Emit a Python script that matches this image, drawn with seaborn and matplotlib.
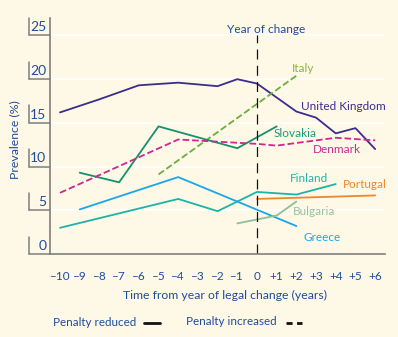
import matplotlib
matplotlib.use("Agg")
import matplotlib.pyplot as plt
from matplotlib.lines import Line2D
from matplotlib.transforms import blended_transform_factory
import pandas as pd
import seaborn as sns

# Prevalence (%) by year relative to the legal change
uk_years = [-10, -8, -6, -4, -2, -1, 0, 2, 3, 4, 5, 6]
uk_vals = [16.2, 17.7, 19.3, 19.6, 19.2, 20.0, 19.5, 16.3, 15.6, 13.8, 14.4, 12.0]

italy_years = [-5, 2]
italy_vals = [9.1, 20.4]

slovakia_years = [-9, -7, -5, -1, 1]
slovakia_vals = [9.3, 8.2, 14.6, 12.1, 14.6]

denmark_years = [-10, -4, 0, 1, 4, 6]
denmark_vals = [7.0, 13.1, 12.6, 12.4, 13.3, 13.0]

finland_years = [-10, -4, -2, 0, 2, 4]
finland_vals = [3.0, 6.3, 4.9, 7.1, 6.8, 8.0]

greece_years = [-9, -4, 2]
greece_vals = [5.1, 8.8, 3.2]

portugal_years = [0, 6]
portugal_vals = [6.3, 6.7]

bulgaria_years = [-1, 1, 2]
bulgaria_vals = [3.5, 4.4, 6.0]

x_ticks = list(range(-10, 7))
x_labels = ["\u2013%d" % -t if t < 0 else ("0" if t == 0 else "+%d" % t) for t in x_ticks]
y_ticks = [0, 5, 10, 15, 20, 25]

BG = "#FEF9E7"
TXT = "#1F4C9C"
AX = "#7F7F7F"

sns.set_style("white", {"axes.facecolor": BG, "figure.facecolor": BG})
plt.rcParams["font.family"] = ["Lato", "DejaVu Sans"]

fig = plt.figure(figsize=(3.98, 3.37), dpi=100)
fig.patch.set_facecolor(BG)
ax = fig.add_axes([50.2 / 398, 1 - 254 / 337, 334.8 / 398, 236 / 337])
ax.set_facecolor(BG)

series = [
    ("United Kingdom", uk_years, uk_vals, "#3B2C8F", "-", "#3B2C8F"),
    ("Italy", italy_years, italy_vals, "#6AAE3E", "--", "#8DB53A"),
    ("Slovakia", slovakia_years, slovakia_vals, "#168F6E", "-", "#1A9A7A"),
    ("Denmark", denmark_years, denmark_vals, "#CF2690", "--", "#C8288E"),
    ("Finland", finland_years, finland_vals, "#1CB3A8", "-", "#20B5AA"),
    ("Greece", greece_years, greece_vals, "#1AA6E8", "-", "#1AA6E8"),
    ("Portugal", portugal_years, portugal_vals, "#F0852A", "-", "#F0852A"),
    ("Bulgaria", bulgaria_years, bulgaria_vals, "#8FBF9C", "-", "#98C2A2"),
]

label_pos = {
    "United Kingdom": (2.23, 16.9),
    "Italy": (1.76, 21.2),
    "Slovakia": (0.86, 13.8),
    "Denmark": (2.84, 11.9),
    "Finland": (1.68, 8.6),
    "Portugal": (4.37, 7.9),
    "Bulgaria": (1.83, 4.84),
    "Greece": (2.34, 1.86),
}

for name, xs, ys, col, ls, tcol in series:
    df = pd.DataFrame({"year": xs, "prev": ys})
    line_kw = dict(linestyle=ls, linewidth=1.3)
    if ls == "--":
        line_kw["dashes"] = (4, 2.2)
    sns.lineplot(data=df, x="year", y="prev", ax=ax, color=col, sort=False,
                 estimator=None, **line_kw)
    lx, ly = label_pos[name]
    ax.text(lx, ly, name, color=tcol, fontsize=8.5, ha="left", va="center")

# year of change marker
ax.plot([0, 0], [0, 25], color="#111111", lw=0.9, linestyle=(0, (8, 5)))
ax.text(0.45, 25.7, "Year of change", color=TXT, fontsize=8.6, ha="center", va="center")

ax.set_xlim(-10.5, 6.5)
ax.set_ylim(0, 27)

# axes styling
for s in ["top", "right"]:
    ax.spines[s].set_visible(False)
for s in ["left", "bottom"]:
    ax.spines[s].set_color(AX)
    ax.spines[s].set_linewidth(1.2)

ax.set_yticks(y_ticks)
ax.set_yticklabels([])
ax.tick_params(axis="y", length=0)
ax.grid(axis="y", color="white", linewidth=1.2)
ax.grid(axis="x", visible=False)
ax.set_axisbelow(True)

ax.set_xticks(x_ticks)
ax.set_xticklabels(x_labels, color=TXT, fontsize=8.5)
ax.tick_params(axis="x", which="major", length=0, pad=12)
ax.set_xticks([t + 0.5 for t in range(-11, 7)], minor=True)
ax.tick_params(axis="x", which="minor", length=4, width=1.1, color=AX, direction="out")
ax.set_xlabel("")
ax.set_ylabel("")

# bracketed y tick labels
tr = blended_transform_factory(ax.transAxes, ax.transData)
bx = -0.062
for v in y_ticks:
    ax.plot([bx, 0], [v, v], color=AX, lw=1.1, transform=tr, clip_on=False)
    ax.plot([bx, bx], [v, v + 2.0], color=AX, lw=1.1, transform=tr, clip_on=False)
    ax.text(-0.012, v + 0.95, str(v), color=TXT, fontsize=10, ha="right", va="center",
            transform=tr)

ax.text(-0.105, 0.483, "Prevalence (%)", color=TXT, fontsize=8.8, rotation=90,
        ha="center", va="center", transform=ax.transAxes)

fig.text(224.7 / 398, 1 - 295 / 337, "Time from year of legal change (years)",
         color=TXT, fontsize=8.8, ha="center", va="center")

# legend for line styles
ly = 1 - 322.5 / 337
fig.text(53 / 398, ly, "Penalty reduced", color=TXT, fontsize=8.4, ha="left", va="center")
fig.add_artist(Line2D([144 / 398, 160 / 398], [ly, ly], color="#111111", lw=2))
fig.text(186 / 398, ly + 0.004, "Penalty increased", color=TXT, fontsize=8.4, ha="left", va="center")
fig.add_artist(Line2D([286 / 398, 302 / 398], [ly, ly], color="#111111", lw=2,
                      linestyle=(0, (2.2, 1.6))))

fig.savefig("out.png", dpi=100, facecolor=BG)
